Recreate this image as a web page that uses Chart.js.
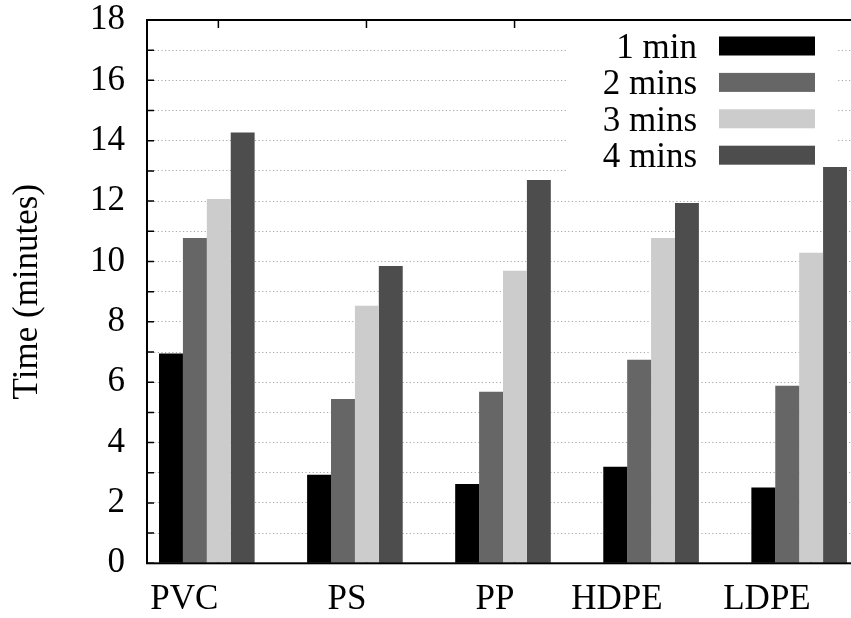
<!DOCTYPE html>
<html>
<head>
<meta charset="utf-8">
<script src="https://cdn.jsdelivr.net/npm/chart.js@4/dist/chart.umd.min.js"></script>
<style>
  html, body { margin: 0; padding: 0; background: #fff; overflow: hidden; }
  #wrap { width: 870px; height: 618px; }
</style>
</head>
<body>
<div id="wrap"><canvas id="myChart" width="870" height="618"></canvas></div>
<script>
// data
var categories = ["PVC", "PS", "PP", "HDPE", "LDPE"];
var seriesNames = ["1 min", "2 mins", "3 mins", "4 mins"];
var oneMin = [6.95, 2.93, 2.63, 3.2, 2.51];
var twoMins = [10.78, 5.44, 5.68, 6.74, 5.88];
var threeMins = [12.07, 8.53, 9.69, 10.78, 10.29];
var fourMins = [14.27, 9.85, 12.7, 11.94, 13.13];
var yTicks = [0, 2, 4, 6, 8, 10, 12, 14, 16, 18];

var colors = ["#000000", "#666666", "#cccccc", "#4d4d4d"];
var FONT = "'Liberation Serif', 'Times New Roman', serif";

function toPoints(arr) {
  return arr.map(function (v, i) { return { x: i, y: v }; });
}

// gnuplot-ish frame, inward ticks and opaque key
var framePlugin = {
  id: "frame",
  beforeDatasetsDraw: function (chart) {
    var ctx = chart.ctx;
    var area = chart.chartArea;
    var xs = chart.scales.x;
    var ys = chart.scales.y;
    ctx.save();
    ctx.strokeStyle = "#000";
    ctx.lineWidth = 1.5;
    ctx.beginPath();
    ys.ticks.forEach(function (t) {
      var py = ys.getPixelForValue(t.value);
      ctx.moveTo(area.left, py); ctx.lineTo(area.left + 7, py);
      ctx.moveTo(area.right, py); ctx.lineTo(area.right - 7, py);
    });
    xs.ticks.forEach(function (t) {
      var px = xs.getPixelForValue(t.value);
      ctx.moveTo(px, area.top); ctx.lineTo(px, area.top + 8);
      ctx.moveTo(px, area.bottom); ctx.lineTo(px, area.bottom - 8);
    });
    ctx.stroke();

    // key
    ctx.fillStyle = "#fff";
    ctx.fillRect(567, 21, 269, 154);
    ctx.font = "35px " + FONT;
    ctx.textAlign = "right";
    ctx.textBaseline = "alphabetic";
    chart.data.datasets.forEach(function (ds, i) {
      var cy = 46 + 36.4 * i;
      ctx.fillStyle = "#000";
      ctx.fillText(ds.label, 697, cy + 12);
      ctx.fillStyle = ds.backgroundColor;
      ctx.fillRect(719, cy - 9.5, 96, 19);
    });
    ctx.restore();
  },
  afterDatasetsDraw: function (chart) {
    var ctx = chart.ctx;
    var area = chart.chartArea;
    ctx.save();
    ctx.strokeStyle = "#000";
    ctx.lineWidth = 2;
    ctx.strokeRect(area.left, area.top, area.right - area.left, area.bottom - area.top);
    ctx.restore();
  }
};

var ctx = document.getElementById("myChart").getContext("2d");
var chart = new Chart(ctx, {
  type: "bar",
  data: {
    datasets: [
      { label: seriesNames[0], data: toPoints(oneMin), backgroundColor: colors[0] },
      { label: seriesNames[1], data: toPoints(twoMins), backgroundColor: colors[1] },
      { label: seriesNames[2], data: toPoints(threeMins), backgroundColor: colors[2] },
      { label: seriesNames[3], data: toPoints(fourMins), backgroundColor: colors[3] },
    ],
  },
  options: {
    responsive: false,
    animation: false,
    categoryPercentage: 0.6457,
    barPercentage: 1.0,
    layout: { padding: { top: 20, right: 11, left: 0, bottom: 0 } },
    plugins: {
      legend: { display: false },
      tooltip: { enabled: false },
    },
    scales: {
      x: {
        type: "linear",
        offset: false,
        min: -0.404,
        max: 4.404,
        grid: { display: false, drawTicks: false },
        border: { display: false },
        afterBuildTicks: function (scale) {
          scale.ticks = categories.map(function (c, i) { return { value: i + 0.078 }; });
        },
        afterFit: function (scale) {
          scale.height = 618 - 563.3;
          scale.paddingLeft = 0;
          scale.paddingRight = 0;
        },
        ticks: {
          align: "end",
          autoSkip: false,
          maxRotation: 0,
          minRotation: 0,
          padding: 16,
          color: "#000",
          font: { family: FONT, size: 35 },
          callback: function (value, index) { return categories[index]; },
        },
      },
      y: {
        min: 0,
        max: 18,
        grid: { color: "#a8a8a8", lineWidth: 1, drawTicks: false },
        border: { display: false, dash: [1.2, 2.4] },
        afterFit: function (scale) {
          scale.width = 147;
          scale.paddingTop = 0;
          scale.paddingBottom = 0;
        },
        ticks: {
          stepSize: 1,
          maxTicksLimit: 30,
          autoSkip: false,
          padding: 22,
          color: "#000",
          font: { family: FONT, size: 35 },
          callback: function (value) { return yTicks.indexOf(value) >= 0 ? value : ""; },
        },
        title: {
          display: true,
          text: "Time (minutes)",
          color: "#000",
          padding: { top: 7, bottom: 0 },
          font: { family: FONT, size: 35 },
        },
      },
    },
  },
  plugins: [framePlugin],
});
</script>
</body>
</html>
